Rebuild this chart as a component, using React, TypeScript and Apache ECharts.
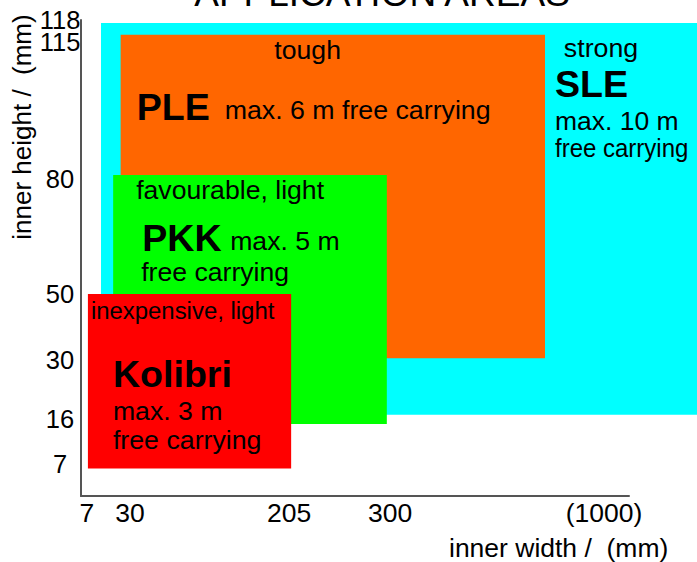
import React, { useEffect, useRef } from "react";
import * as echarts from "echarts";

// ---- data ----
const X_TICKS = [7, 30, 205, 300, 1000];
const X_TICK_LABELS = ["7", "30", "205", "300", "(1000)"];
const Y_TICKS = [7, 16, 30, 50, 80, 115, 118];
const Y_TICK_LABELS = ["7", "16", "30", "50", "80", "115", "118"];

// schematic (non-linear) axis scales: mm -> axis position (0..100)
const X_SCALE_MM = [0, 7, 30, 205, 300, 1000];
const X_SCALE_POS = [0, 1.09, 8.94, 37.96, 56.39, 95.44];
const Y_SCALE_MM = [0, 7, 16, 30, 50, 80, 115, 118];
const Y_SCALE_POS = [0, 6.72, 16.18, 28.57, 42.44, 66.6, 95.38, 100];

const SYSTEMS = ["SLE", "PLE", "PKK", "Kolibri"];
const WIDTH_MIN = [14.5, 25, 21, 7.5];
const WIDTH_MAX = [1400, 807, 297, 207];
const HEIGHT_MIN = [17, 30.5, 15, 6];
const HEIGHT_MAX = [117.6, 116, 81, 50];
const ATTRIBUTES = ["strong", "tough", "favourable, light", "inexpensive, light"];
const MAX_SPAN = ["max. 10 m", "max. 6 m", "max. 5 m", "max. 3 m"];
const CARRY = "free carrying";

// ---- styles ----
const COLORS = ["#00FFFF", "#FF6600", "#00FF00", "#FF0000"];
const FONT = "'Liberation Sans', Arial, Helvetica, sans-serif";
const BODY = 25;
const BOLD = 36.5;
const SB = 1.065; // body text horizontal stretch
const SBB = 1.03; // bold text horizontal stretch

type TextSpec = { t: string; dx: number; dy: number; size: number; bold?: boolean; align?: string; sx: number };
const buildTexts = (i: number): TextSpec[] => {
  switch (i) {
    case 0:
      return [
        { t: ATTRIBUTES[0], dx: 500, dy: 25, size: BODY, align: "center", sx: 1.07 },
        { t: SYSTEMS[0], dx: 454, dy: 61, size: BOLD, bold: true, sx: SBB },
        { t: MAX_SPAN[0], dx: 454, dy: 98, size: BODY, sx: 1.06 },
        { t: CARRY, dx: 454, dy: 125, size: BODY, sx: 0.96 },
      ];
    case 1:
      return [
        { t: ATTRIBUTES[1], dx: 187, dy: 16, size: BODY, align: "center", sx: SB },
        { t: SYSTEMS[1], dx: 16, dy: 73, size: BOLD, bold: true, sx: SBB },
        { t: MAX_SPAN[1] + " " + CARRY, dx: 104, dy: 76, size: BODY, sx: 1.07 },
      ];
    case 2:
      return [
        { t: ATTRIBUTES[2], dx: 23, dy: 15.5, size: BODY, sx: SB },
        { t: SYSTEMS[2], dx: 29, dy: 63, size: BOLD, bold: true, sx: SBB },
        { t: MAX_SPAN[2], dx: 117, dy: 66, size: BODY, sx: SB },
        { t: CARRY, dx: 28, dy: 97, size: BODY, sx: SB },
      ];
    default:
      return [
        { t: ATTRIBUTES[3], dx: 3, dy: 17, size: 23, sx: 1.04 },
        { t: SYSTEMS[3], dx: 25, dy: 80.5, size: BOLD, bold: true, sx: SBB },
        { t: MAX_SPAN[3], dx: 25, dy: 117.5, size: BODY, sx: SB },
        { t: CARRY, dx: 25, dy: 146, size: BODY, sx: 1.07 },
      ];
  }
};

const interp = (v: number, xs: number[], ys: number[]) => {
  const n = xs.length;
  let k = 0;
  if (v <= xs[0]) k = 0;
  else if (v >= xs[n - 1]) k = n - 2;
  else {
    for (let j = 0; j < n - 1; j++) {
      if (v >= xs[j] && v <= xs[j + 1]) {
        k = j;
        break;
      }
    }
  }
  const t = (v - xs[k]) / (xs[k + 1] - xs[k]);
  return ys[k] + t * (ys[k + 1] - ys[k]);
};
const toX = (mm: number) => interp(mm, X_SCALE_MM, X_SCALE_POS);
const toY = (mm: number) => interp(mm, Y_SCALE_MM, Y_SCALE_POS);

const nearestLabel = (v: number, ticks: number[], labels: string[], f: (n: number) => number) => {
  let best = 0;
  let bd = Infinity;
  ticks.forEach((t, i) => {
    const d = Math.abs(f(t) - v);
    if (d < bd) {
      bd = d;
      best = i;
    }
  });
  return labels[best];
};

export default function App() {
  const ref = useRef<HTMLDivElement>(null);
  useEffect(() => {
    if (!ref.current) return;
    const chart = echarts.init(ref.current, null, { renderer: "svg" });
    const data = SYSTEMS.map((_, i) => [
      toX(WIDTH_MIN[i]),
      toX(WIDTH_MAX[i]),
      toY(HEIGHT_MIN[i]),
      toY(HEIGHT_MAX[i]),
      i,
    ]);
    const yLabelStyle = {
      formatter: (v: number) => nearestLabel(v, Y_TICKS, Y_TICK_LABELS, toY),
      color: "#000",
      fontSize: 25.5,
      fontFamily: FONT,
      align: "center",
      margin: 21,
      hideOverlap: false,
      showMinLabel: true,
      showMaxLabel: true,
    };
    // the top tick (118) sits too close to 115 for one axis' overlap check,
    // so it is carried by a twin axis with the same scale
    const topTick = Y_TICKS[Y_TICKS.length - 1];
    const otherTicks = Y_TICKS.slice(0, -1);
    const option: any = {
      animation: false,
      backgroundColor: "#ffffff",
      grid: { left: 81, right: 68, top: 20, bottom: 66, containLabel: false },
      xAxis: {
        type: "value",
        min: 0,
        max: 100,
        axisLine: { show: true, lineStyle: { color: "#555555", width: 2 } },
        axisTick: { show: false },
        splitLine: { show: false },
        axisLabel: {
          customValues: X_TICKS.map(toX),
          formatter: (v: number) => nearestLabel(v, X_TICKS, X_TICK_LABELS, toX),
          color: "#000",
          fontSize: 26.5,
          fontFamily: FONT,
          margin: 3,
          hideOverlap: false,
          showMinLabel: true,
          showMaxLabel: true,
        },
      },
      yAxis: [
        {
          type: "value",
          min: 0,
          max: 100,
          position: "left",
          axisLine: { show: true, lineStyle: { color: "#555555", width: 2 } },
          axisTick: { show: false },
          splitLine: { show: false },
          axisLabel: { ...yLabelStyle, customValues: otherTicks.map(toY) },
        },
        {
          type: "value",
          min: 0,
          max: 100,
          position: "left",
          offset: 0,
          axisLine: { show: false },
          axisTick: { show: false },
          splitLine: { show: false },
          axisLabel: { ...yLabelStyle, customValues: [toY(topTick)] },
        },
      ],
      graphic: [
        {
          type: "text",
          x: 382,
          y: -7,
          style: {
            text: "APPLICATION AREAS",
            fill: "#000",
            fontSize: 37,
            fontFamily: FONT,
            align: "center",
            verticalAlign: "middle",
            textAlign: "center",
            textVerticalAlign: "middle",
          },
          z: 10,
        },
        {
          type: "text",
          x: 449,
          y: 548,
          scaleX: 1.06,
          style: {
            text: "inner width /  (mm)",
            fill: "#000",
            fontSize: BODY,
            fontFamily: FONT,
            align: "left",
            verticalAlign: "middle",
            textAlign: "left",
            textVerticalAlign: "middle",
          },
        },
        {
          type: "text",
          x: 22,
          y: 127,
          rotation: Math.PI / 2,
          scaleX: 1.04,
          style: {
            text: "inner height /  (mm)",
            fill: "#000",
            fontSize: BODY,
            fontFamily: FONT,
            align: "center",
            verticalAlign: "middle",
            textAlign: "center",
            textVerticalAlign: "middle",
          },
        },
      ],
      series: [
        {
          type: "custom",
          clip: false,
          xAxisIndex: 0,
          yAxisIndex: 0,
          data,
          renderItem: (_params: any, api: any) => {
            const i = api.value(4);
            const tl = api.coord([api.value(0), api.value(3)]);
            const br = api.coord([api.value(1), api.value(2)]);
            const children: any[] = [
              {
                type: "rect",
                shape: { x: tl[0], y: tl[1], width: br[0] - tl[0], height: br[1] - tl[1] },
                style: { fill: COLORS[i] },
              },
            ];
            buildTexts(i).forEach((s) => {
              children.push({
                type: "text",
                x: tl[0] + s.dx,
                y: tl[1] + s.dy,
                scaleX: s.sx,
                style: {
                  text: s.t,
                  fill: "#000",
                  fontSize: s.size,
                  fontWeight: s.bold ? "bold" : "normal",
                  fontFamily: FONT,
                  align: s.align || "left",
                  verticalAlign: "middle",
                  textAlign: s.align || "left",
                  textVerticalAlign: "middle",
                },
              });
            });
            return { type: "group", children };
          },
        },
      ],
    };
    chart.setOption(option);
    return () => chart.dispose();
  }, []);
  return (
    <div
      ref={ref}
      style={{ position: "fixed", left: 0, top: 0, width: 697, height: 562 }}
    />
  );
}
